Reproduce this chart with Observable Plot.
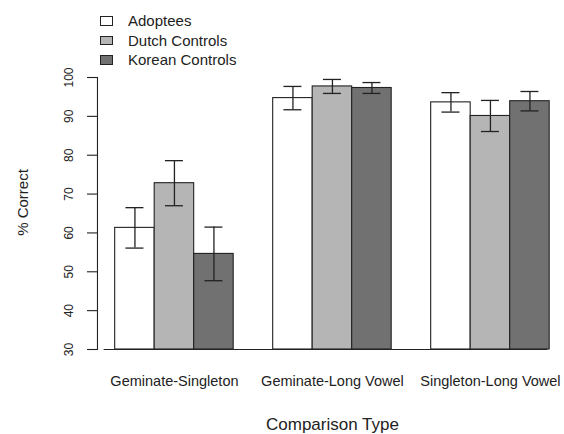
<!DOCTYPE html>
<html><head><meta charset="utf-8">
<script src="https://cdn.jsdelivr.net/npm/d3@7"></script>
<script src="https://cdn.jsdelivr.net/npm/@observablehq/plot@0.6"></script>
<style>
body{margin:0;background:#fff;}
#wrap{position:relative;width:564px;height:434px;font-family:"Liberation Sans",Arial,sans-serif;}
#legend{position:absolute;left:100px;top:11px;font-size:15px;color:#222;}
.row{display:flex;align-items:center;height:19.5px;}
.sw{width:11px;height:7.5px;border:1px solid #222;margin-right:15px;}
</style></head><body><div id="wrap"><div id="legend"></div></div>
<script>
const comparisons = ["Geminate-Singleton", "Geminate-Long Vowel", "Singleton-Long Vowel"];
const groups = ["Adoptees", "Dutch Controls", "Korean Controls"];
const fills = ["#ffffff", "#b5b5b5", "#717171"];
const adoptees = [61.3, 94.7, 93.6];
const adopteesSE = [5.2, 3.0, 2.5];
const dutch = [72.8, 97.7, 90.1];
const dutchSE = [5.8, 1.8, 4.0];
const korean = [54.6, 97.3, 93.9];
const koreanSE = [6.9, 1.4, 2.5];
const yTicks = [30, 40, 50, 60, 70, 80, 90, 100];
const yMin = 30, yMax = 100;
const xTitle = "Comparison Type";
const yTitle = "% Correct";

const means = [adoptees, dutch, korean];
const ses = [adopteesSE, dutchSE, koreanSE];
const rows = [];
comparisons.forEach((c, i) => groups.forEach((g, j) => rows.push({comparison: c, group: g, mean: means[j][i], se: ses[j][i]})));

const font = '"Liberation Sans", Arial, sans-serif';
const ink = "#222";
const chart = Plot.plot({
  width: 564, height: 434,
  marginTop: 77, marginBottom: 85, marginLeft: 97, marginRight: 8,
  style: {fontFamily: font, fontSize: "12px", color: ink, background: "transparent", overflow: "visible"},
  fx: {domain: comparisons, paddingInner: 0.25, paddingOuter: 0.0775, align: 0.722, round: false, label: null},
  x: {domain: groups, padding: 0, round: false, axis: null},
  y: {domain: [yMin, yMax], ticks: yTicks},
  color: {domain: groups, range: fills},
  marks: [
    Plot.barY(rows, {fx: "comparison", x: "group", y1: yMin, y2: "mean", fill: "group", stroke: ink, strokeWidth: 1.1}),
    Plot.ruleX(rows, {fx: "comparison", x: "group", y1: d => d.mean - d.se, y2: d => d.mean + d.se, stroke: ink, strokeWidth: 1.3}),
    Plot.tickY(rows, {fx: "comparison", x: "group", y: d => d.mean + d.se, insetLeft: 10.75, insetRight: 10.75, stroke: ink, strokeWidth: 1.3}),
    Plot.tickY(rows, {fx: "comparison", x: "group", y: d => d.mean - d.se, insetLeft: 10.75, insetRight: 10.75, stroke: ink, strokeWidth: 1.3}),
    Plot.frame({anchor: "bottom", facet: "super", insetLeft: -11, insetRight: 3, stroke: ink, strokeWidth: 1.2}),
    Plot.frame({anchor: "left", facetAnchor: "left", dx: -17.7, stroke: ink, strokeWidth: 1.1}),
    Plot.axisY({ticks: yTicks, tickSize: 10, tickRotate: -90, tickPadding: 14, dx: -17.7, label: null, stroke: ink, strokeWidth: 1.1, fontSize: 12}),
    Plot.text([yTitle], {facetAnchor: "left", frameAnchor: "left", textAnchor: "middle", rotate: -90, dx: -92, dy: -11, fontSize: 15, fill: ink}),
    Plot.axisFx({anchor: "bottom", tickSize: 0, tickPadding: 26, label: null, fontSize: 14.5}),
    Plot.text([xTitle], {facet: "super", frameAnchor: "bottom", dy: 80, fontSize: 17, fill: ink})
  ]
});
const wrap = document.getElementById("wrap");
wrap.insertBefore(chart, wrap.firstChild);
chart.style.position = "absolute";
chart.style.left = "0px";
chart.style.top = "0px";

const legend = document.getElementById("legend");
groups.forEach((g, j) => {
  const r = document.createElement("div");
  r.className = "row";
  const s = document.createElement("div");
  s.className = "sw";
  s.style.background = fills[j];
  const t = document.createElement("span");
  t.textContent = g;
  r.appendChild(s); r.appendChild(t);
  legend.appendChild(r);
});
</script></body></html>
